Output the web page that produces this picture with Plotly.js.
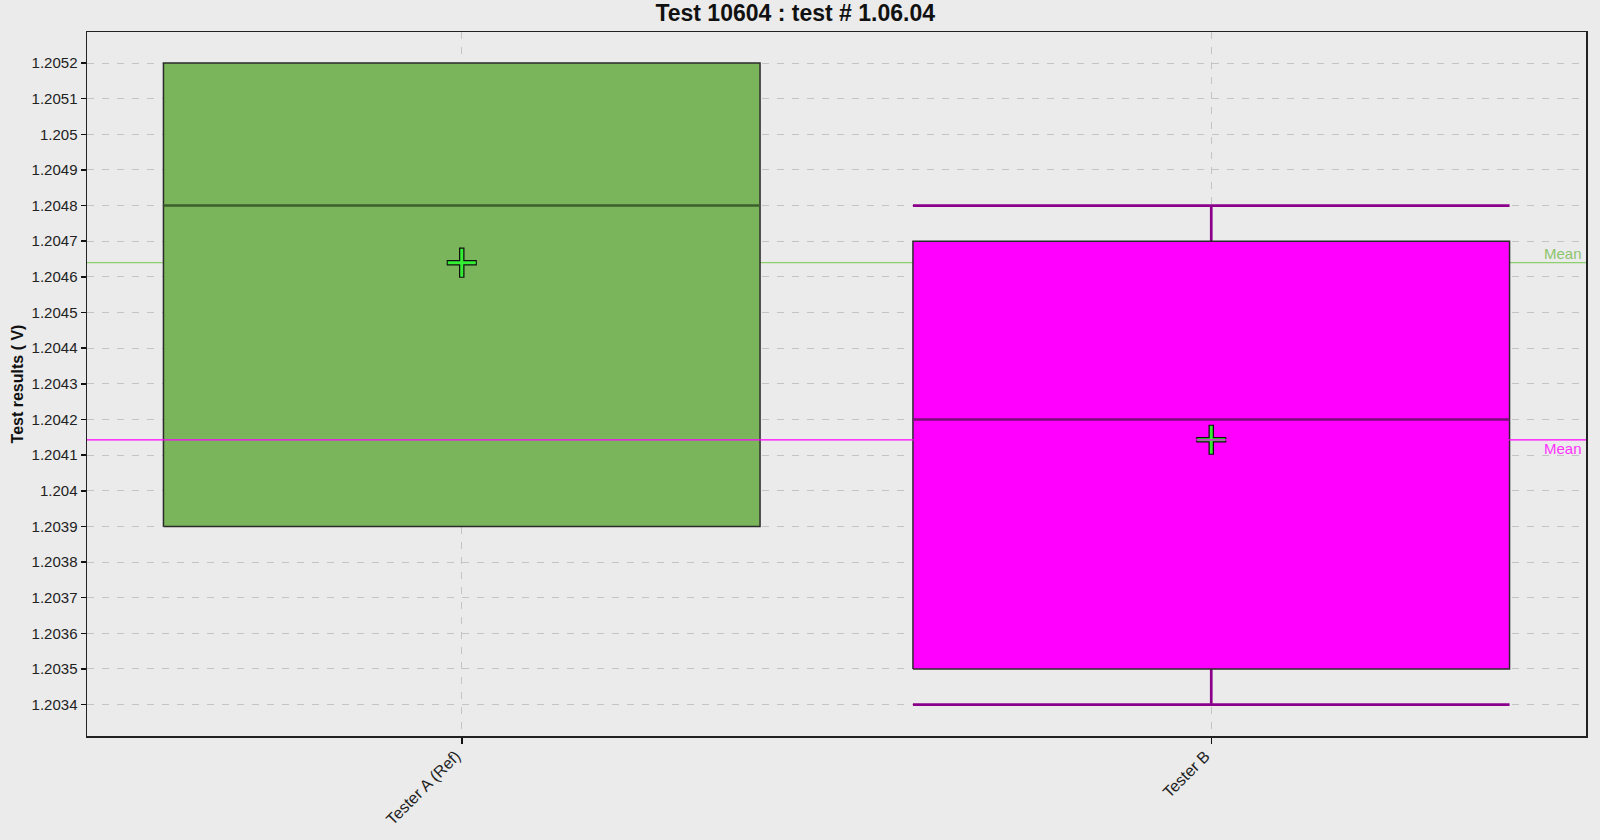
<!DOCTYPE html>
<html>
<head>
<meta charset="utf-8">
<script src="https://cdn.plot.ly/plotly-3.0.1.min.js"></script>
<style>
  html, body { margin: 0; padding: 0; background: #ebebeb; }
  #chart { width: 1600px; height: 840px; }
</style>
</head>
<body>
<div id="chart"></div>
<script>
// Box statistics per tester (Volts)
const testers = ['Tester A (Ref)', 'Tester B'];
const q1Values = [1.2039, 1.2035];
const medianValues = [1.2048, 1.2042];
const q3Values = [1.2052, 1.2047];
const lowerWhiskers = [1.2039, 1.2034];
const upperWhiskers = [1.2052, 1.2048];
const meanValues = [1.20464, 1.204143];

// Y axis tick values and their labels
const yTickValues = [1.2034, 1.2035, 1.2036, 1.2037, 1.2038, 1.2039, 1.204, 1.2041, 1.2042, 1.2043,
                     1.2044, 1.2045, 1.2046, 1.2047, 1.2048, 1.2049, 1.205, 1.2051, 1.2052];
const yTickLabels = ['1.2034', '1.2035', '1.2036', '1.2037', '1.2038', '1.2039', '1.204', '1.2041', '1.2042', '1.2043',
                     '1.2044', '1.2045', '1.2046', '1.2047', '1.2048', '1.2049', '1.205', '1.2051', '1.2052'];

// Styling per tester
const boxFill = ['#7ab55c', '#ff00ff'];
const medianColor = ['#3d5f2c', '#7a0a7a'];
const whiskerColor = ['#3d5f2c', '#8b008b'];
const meanLineColor = ['#8fcf6b', '#ff00ff'];
const meanTextColor = ['#8cc46c', '#ff33ff'];
const halfWidth = 0.398;
const edgeColor = '#2b2b2b';
const fontFamily = 'Liberation Sans, Arial, sans-serif';

const positions = testers.map((_, i) => i);
const traces = [];

testers.forEach((name, i) => {
  const x = positions[i];
  // Whiskers with full-width caps (only where they extend beyond the box)
  if (lowerWhiskers[i] < q1Values[i]) {
    traces.push({
      type: 'scatter', mode: 'lines', hoverinfo: 'skip', showlegend: false,
      x: [x, x, null, x - halfWidth, x + halfWidth],
      y: [q1Values[i], lowerWhiskers[i], null, lowerWhiskers[i], lowerWhiskers[i]],
      line: { color: whiskerColor[i], width: 2.7 }
    });
  }
  if (upperWhiskers[i] > q3Values[i]) {
    traces.push({
      type: 'scatter', mode: 'lines', hoverinfo: 'skip', showlegend: false,
      x: [x, x, null, x - halfWidth, x + halfWidth],
      y: [q3Values[i], upperWhiskers[i], null, upperWhiskers[i], upperWhiskers[i]],
      line: { color: whiskerColor[i], width: 2.7 }
    });
  }
  // Interquartile box
  traces.push({
    type: 'scatter', mode: 'lines', name: name, showlegend: false,
    x: [x - halfWidth, x + halfWidth, x + halfWidth, x - halfWidth, x - halfWidth],
    y: [q1Values[i], q1Values[i], q3Values[i], q3Values[i], q1Values[i]],
    fill: 'toself', fillcolor: boxFill[i],
    line: { color: edgeColor, width: 1.5 }
  });
  // Median
  traces.push({
    type: 'scatter', mode: 'lines', hoverinfo: 'skip', showlegend: false,
    x: [x - halfWidth, x + halfWidth],
    y: [medianValues[i], medianValues[i]],
    line: { color: medianColor[i], width: 2.5 }
  });
});

// Mean markers: green cross with a dark outline
traces.push({
  type: 'scatter', mode: 'markers', hoverinfo: 'skip', showlegend: false,
  x: positions, y: meanValues,
  marker: { symbol: 'cross-thin-open', size: 21.5, color: '#101010', line: { color: '#101010', width: 5.5 } }
});
traces.push({
  type: 'scatter', mode: 'markers', name: 'Mean', showlegend: false,
  x: positions, y: meanValues,
  marker: { symbol: 'cross-thin-open', size: 20, color: '#33ee33', line: { color: '#33ee33', width: 3 } }
});

// Mean reference lines across the plot, labelled at the right edge
const shapes = meanValues.map((m, i) => ({
  type: 'line', xref: 'paper', x0: 0, x1: 1, yref: 'y', y0: m, y1: m,
  layer: i === 0 ? 'below' : 'above',
  line: { color: meanLineColor[i], width: 1.2 }
}));
const annotations = meanValues.map((m, i) => ({
  xref: 'paper', x: 1, xanchor: 'right', xshift: -2,
  yref: 'y', y: m, yanchor: i === 0 ? 'bottom' : 'top', yshift: i === 0 ? -1 : 2,
  text: 'Mean', showarrow: false,
  font: { family: fontFamily, size: 15, color: meanTextColor[i] }
}));

const layout = {
  width: 1600, height: 840,
  paper_bgcolor: '#ebebeb', plot_bgcolor: '#ebebeb',
  margin: { l: 87, r: 14, t: 32, b: 104 },
  showlegend: false,
  title: {
    text: '<b>Test 10604 : test # 1.06.04</b>',
    font: { family: fontFamily, size: 23, color: '#111' },
    xref: 'container', x: 0.497, xanchor: 'center',
    yref: 'container', y: 1 - 13 / 840, yanchor: 'middle'
  },
  xaxis: {
    range: [-0.5, 1.5],
    tickmode: 'array', tickvals: positions, ticktext: testers,
    tickangle: -45,
    tickfont: { family: fontFamily, size: 16, color: '#222' },
    ticklabelshift: -6, ticklabelstandoff: -3,
    ticks: 'outside', ticklen: 6, tickcolor: '#111', tickwidth: 1.5,
    showgrid: true, gridcolor: '#c4c4c4', griddash: '7px,8px', gridwidth: 1,
    zeroline: false,
    showline: true, linecolor: '#222', linewidth: 1.5, mirror: true
  },
  yaxis: {
    range: [1.203312, 1.205287],
    tickmode: 'array', tickvals: yTickValues, ticktext: yTickLabels,
    tickfont: { family: fontFamily, size: 15, color: '#222' },
    ticks: 'outside', ticklen: 5, tickcolor: '#111', tickwidth: 1.5,
    showgrid: true, gridcolor: '#c4c4c4', griddash: '7px,8px', gridwidth: 1,
    zeroline: false,
    showline: true, linecolor: '#222', linewidth: 1.5, mirror: true,
    title: {
      text: '<b>Test results ( V)</b>',
      font: { family: fontFamily, size: 16, color: '#111' },
      standoff: 4
    }
  },
  shapes: shapes,
  annotations: annotations
};

Plotly.newPlot('chart', traces, layout, { displayModeBar: false, staticPlot: true });
</script>
</body>
</html>
